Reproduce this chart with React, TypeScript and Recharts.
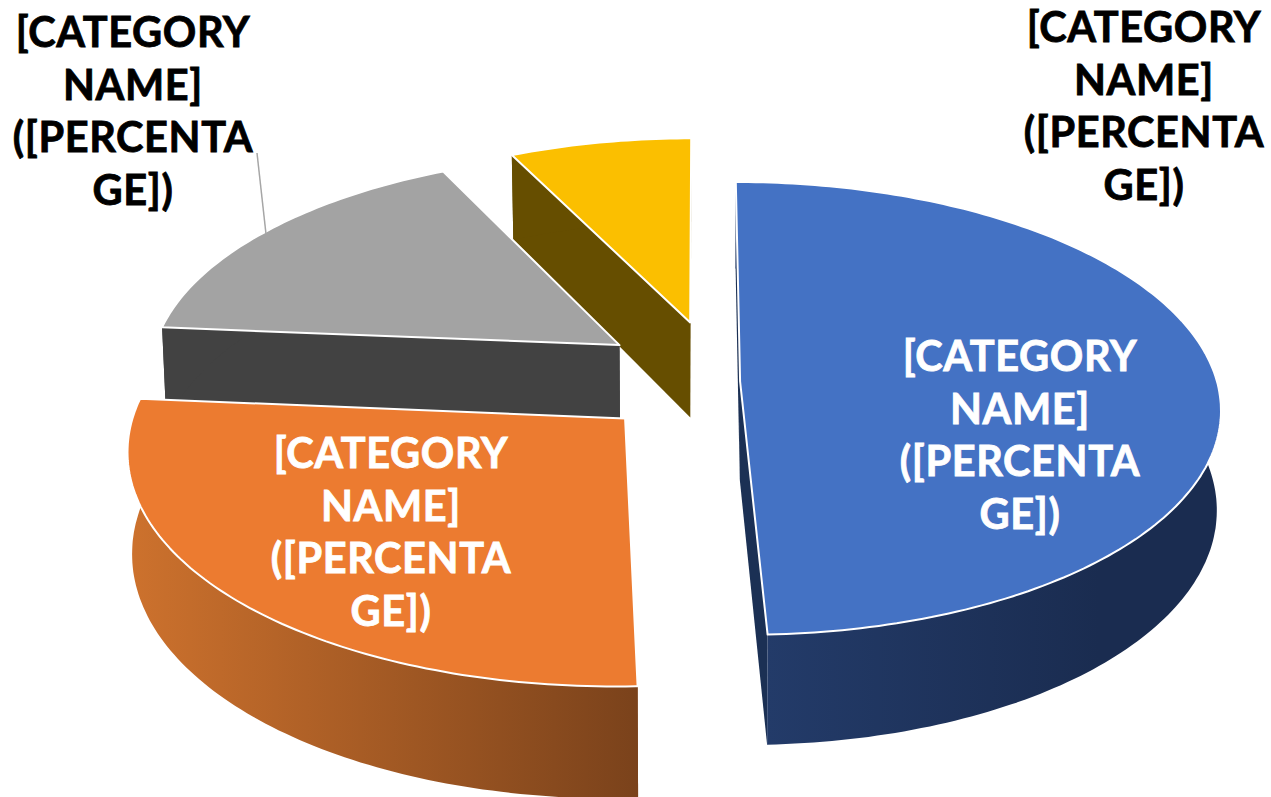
import React from 'react';
import { PieChart, Pie } from 'recharts';

// drawn counter-clockwise from 12 o'clock so the far slices get painted first
const categories = ['Fourth', 'Third', 'Second', 'First'];
const shares = [7.2, 16.45, 27, 49.35];
const labelLines = ['[CATEGORY', 'NAME]', '([PERCENTA', 'GE])'];

const topColors = ['#FBBF00', '#A3A3A3', '#EC7B30', '#4472C4'];
const sideColors = ['#664E00', '#424242', 'url(#orangeWall)', 'url(#blueWall)'];
const cutColors = ['#664E00', '#424242', '#7B431C', '#1B3054'];
// pie explosion of each slice, in radius units (right, far), and its apparent size
const explodeRight = [-0.021, -0.17, -0.152, 0.083];
const explodeFar = [0.25, 0.144, -0.18, -0.02];
const sliceScale = [0.965, 0.98, 1.0, 0.987];
const labelCenterX = [1144, 133, 391, 1020];
const labelBaseY = [42, 47, 468, 371];
const labelColors = ['#000000', '#000000', '#FFFFFF', '#FFFFFF'];

const tableData = categories.map((name, i) => ({ name, value: shares[i] }));

const TILT = 0.467;
const PERSPECTIVE = 0.12;
const BOTTOM_SHRINK = 0.992;
const LINE_STEP = 52.5;

const project = (cx: number, cy: number, r: number, i: number, u: number, v: number, down: boolean) => {
  const gu = u * sliceScale[i] + explodeRight[i];
  const gv = v * sliceScale[i] + explodeFar[i];
  const s = 1 / (1 + PERSPECTIVE * gv);
  const x = r * gu * s * (down ? BOTTOM_SHRINK : 1);
  const y = cy - r * TILT * gv * s + (down ? 98 - 12 * gv : 0);
  return [cx + x, y];
};

const toPath = (pts: number[][]) =>
  pts.map((p, n) => `${n ? 'L' : 'M'}${p[0].toFixed(1)} ${p[1].toFixed(1)}`).join(' ') + ' Z';

const Slice3D = (props: any) => {
  const { cx, cy, outerRadius: r, startAngle, endAngle, index: i } = props;
  const rim: number[][] = [];
  for (let a = startAngle; a < endAngle; a += 1) rim.push([Math.cos((a * Math.PI) / 180), Math.sin((a * Math.PI) / 180)]);
  rim.push([Math.cos((endAngle * Math.PI) / 180), Math.sin((endAngle * Math.PI) / 180)]);

  const top = (p: number[]) => project(cx, cy, r, i, p[0], p[1], false);
  const low = (p: number[]) => project(cx, cy, r, i, p[0], p[1], true);
  const first = rim[0];
  const last = rim[rim.length - 1];
  const hub = [0, 0];

  return (
    <g>
      <path d={toPath([top(hub), top(first), low(first), low(hub)])} fill={cutColors[i]} />
      <path d={toPath([top(hub), top(last), low(last), low(hub)])} fill={cutColors[i]} />
      <path d={toPath([...rim.map(top), ...rim.map(low).reverse()])} fill={sideColors[i]} />
      <path d={toPath([top(hub), ...rim.map(top)])} fill={topColors[i]} stroke="#FFFFFF" strokeWidth={2} strokeLinejoin="round" />
    </g>
  );
};

const renderLabel = (props: any) => {
  const { index: i } = props;
  return (
    <g>
      {i === 1 && <line x1={257} y1={153} x2={266} y2={234} stroke="#A6A6A6" strokeWidth={1.5} />}
      <text
        textAnchor="middle"
        fontFamily="Lato, 'Open Sans', sans-serif"
        fontWeight={700}
        fontSize={41.5}
        letterSpacing={0.6}
        fill={labelColors[i]}
        stroke={labelColors[i]}
        strokeWidth={0.8}
      >
        {labelLines.map((line, n) => (
          <tspan key={line} x={labelCenterX[i]} y={labelBaseY[i] + n * LINE_STEP}>
            {line}
          </tspan>
        ))}
      </text>
    </g>
  );
};

export default function App() {
  return (
    <div style={{ position: 'absolute', left: 0, top: 0, width: 1271, height: 797 }}>
      <PieChart width={1271} height={797} margin={{ top: 0, right: 0, bottom: 0, left: 0 }}>
        <defs>
          <linearGradient id="orangeWall" gradientUnits="userSpaceOnUse" x1="135" y1="0" x2="640" y2="0">
            <stop offset="0%" stopColor="#CC712D" />
            <stop offset="100%" stopColor="#7A421B" />
          </linearGradient>
          <linearGradient id="blueWall" gradientUnits="userSpaceOnUse" x1="767" y1="0" x2="1100" y2="0">
            <stop offset="0%" stopColor="#233B69" />
            <stop offset="100%" stopColor="#1A2C50" />
          </linearGradient>
        </defs>
        <Pie
          data={tableData}
          dataKey="value"
          nameKey="name"
          cx={700}
          cy={377}
          innerRadius={0}
          outerRadius={482}
          startAngle={90}
          endAngle={450}
          shape={Slice3D}
          label={renderLabel}
          labelLine={false}
          isAnimationActive={false}
        />
      </PieChart>
    </div>
  );
}
